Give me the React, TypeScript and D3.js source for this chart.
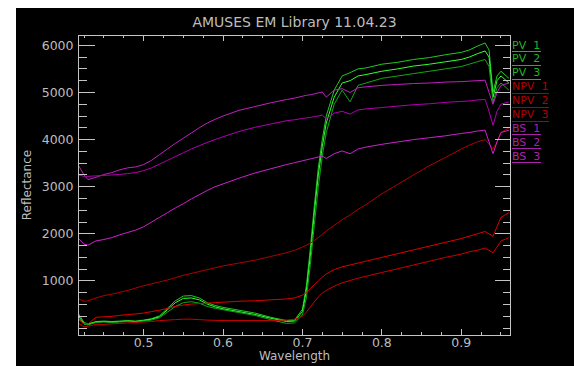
import * as React from "react";
import { useEffect, useRef } from "react";
import * as d3 from "d3";

// wavelength in micrometres
const wavelength = [0.418, 0.425, 0.43, 0.44, 0.45, 0.46, 0.47, 0.48, 0.49, 0.5, 0.51, 0.52, 0.53, 0.54, 0.55, 0.56, 0.57, 0.58, 0.59, 0.6, 0.62, 0.64, 0.66, 0.68, 0.69, 0.7, 0.705, 0.71, 0.715, 0.72, 0.725, 0.73, 0.74, 0.75, 0.76, 0.77, 0.78, 0.8, 0.82, 0.84, 0.86, 0.88, 0.9, 0.91, 0.92, 0.93, 0.935, 0.94, 0.945, 0.95, 0.96];

const pv1 = [300, 120, 90, 140, 150, 140, 150, 160, 150, 170, 200, 260, 420, 580, 680, 690, 640, 540, 480, 440, 380, 320, 230, 160, 170, 400, 900, 1700, 2600, 3400, 4000, 4500, 5050, 5350, 5420, 5500, 5520, 5600, 5640, 5700, 5740, 5800, 5850, 5900, 5980, 6050, 5900, 5000, 5350, 5450, 5300];
const pv2 = [250, 100, 80, 130, 140, 130, 140, 150, 140, 160, 190, 240, 390, 540, 630, 640, 600, 510, 450, 410, 350, 290, 210, 140, 150, 350, 800, 1550, 2450, 3250, 3850, 4350, 4900, 5200, 5250, 5350, 5380, 5450, 5500, 5560, 5600, 5650, 5700, 5750, 5820, 5880, 5750, 4900, 5250, 5350, 5200];
const pv3 = [200, 80, 70, 120, 130, 120, 130, 140, 130, 150, 170, 220, 340, 460, 540, 560, 530, 460, 420, 390, 330, 270, 180, 100, 110, 280, 650, 1350, 2200, 3000, 3650, 4150, 4750, 5050, 4800, 5150, 5200, 5300, 5350, 5400, 5450, 5500, 5550, 5600, 5650, 5700, 5550, 4800, 5100, 5200, 5050];
const npv1 = [620, 570, 580, 640, 690, 720, 760, 800, 850, 900, 940, 980, 1020, 1070, 1120, 1160, 1200, 1240, 1280, 1320, 1380, 1440, 1520, 1600, 1650, 1720, 1760, 1800, 1860, 1920, 1990, 2060, 2180, 2300, 2400, 2520, 2620, 2850, 3050, 3250, 3450, 3620, 3800, 3880, 3950, 4000, 3900, 3800, 3950, 4150, 4250];
const npv2 = [180, 100, 90, 230, 240, 250, 270, 290, 300, 320, 350, 380, 420, 460, 490, 510, 520, 530, 540, 550, 570, 580, 600, 620, 640, 700, 760, 840, 920, 1000, 1080, 1150, 1240, 1300, 1340, 1380, 1420, 1500, 1580, 1660, 1740, 1820, 1900, 1950, 2000, 2050, 2000, 1950, 2150, 2350, 2450];
const npv3 = [100, 30, 40, 80, 80, 90, 100, 110, 120, 130, 140, 160, 170, 180, 190, 190, 180, 170, 165, 160, 160, 160, 160, 170, 190, 250, 340, 450, 560, 660, 740, 800, 890, 960, 1010, 1060, 1100, 1180, 1260, 1340, 1420, 1500, 1570, 1620, 1650, 1700, 1650, 1600, 1720, 1850, 1920];
const bs1 = [3450, 3250, 3150, 3200, 3260, 3300, 3360, 3400, 3420, 3470, 3560, 3680, 3800, 3920, 4030, 4140, 4250, 4350, 4430, 4500, 4620, 4700, 4780, 4850, 4880, 4920, 4940, 4950, 4970, 4990, 5010, 4900, 5050, 5080, 5000, 5100, 5120, 5150, 5170, 5190, 5200, 5220, 5230, 5240, 5250, 5260, 5000, 4750, 5000, 5150, 5200];
const bs2 = [3250, 3220, 3220, 3230, 3240, 3250, 3260, 3280, 3300, 3340, 3400, 3480, 3560, 3640, 3720, 3800, 3870, 3940, 4000, 4060, 4170, 4260, 4330, 4400, 4420, 4450, 4460, 4470, 4490, 4500, 4520, 4440, 4560, 4600, 4540, 4630, 4650, 4680, 4710, 4740, 4760, 4790, 4810, 4820, 4840, 4850, 4600, 4300, 4600, 4750, 4800];
const bs3 = [1900, 1780, 1760, 1850, 1880, 1920, 1980, 2030, 2080, 2150, 2250, 2350, 2450, 2550, 2640, 2740, 2830, 2920, 3000, 3060, 3180, 3290, 3380, 3470, 3510, 3550, 3570, 3590, 3610, 3630, 3650, 3600, 3700, 3760, 3700, 3800, 3840, 3900, 3950, 4000, 4040, 4080, 4130, 4150, 4180, 4200, 3950, 3700, 3950, 4150, 4200];

const seriesNames = ["PV  1", "PV  2", "PV  3", "NPV  1", "NPV  2", "NPV  3", "BS  1", "BS  2", "BS  3"];
const seriesValues = [pv1, pv2, pv3, npv1, npv2, npv3, bs1, bs2, bs3];
const lineColors = ["#22c822", "#33ff33", "#12a812", "#b00000", "#dd0000", "#cc0000", "#c020c0", "#b000b0", "#cc22cc"];
const legendColors = ["#22b422", "#22b422", "#22b422", "#b00000", "#b00000", "#b00000", "#a820a8", "#a820a8", "#b020b0"];

const xTickValues = [0.5, 0.6, 0.7, 0.8, 0.9];
const xTickLabels = ["0.5", "0.6", "0.7", "0.8", "0.9"];
const yTickValues = [1000, 2000, 3000, 4000, 5000, 6000];
const yTickLabels = ["1000", "2000", "3000", "4000", "5000", "6000"];

const titleText = "AMUSES EM Library 11.04.23";
const xTitle = "Wavelength";
const yTitle = "Reflectance";

const App = () => {
    const ref = useRef<SVGSVGElement>(null);

    useEffect(() => {
        const svg = d3.select(ref.current);
        svg.selectAll("*").remove();

        const left = 78.5, right = 510.5, top = 35, bottom = 335;
        const axisColor = "#c4c4c4";
        const textColor = "#bdbdbd";
        const font = "DejaVu Sans, sans-serif";

        const x = d3.scaleLinear().domain([0.418, 0.962]).range([left, right]);
        const y = d3.scaleLinear().domain([-146, 6219]).range([bottom, top]);

        svg.append("rect")
            .attr("x", 16).attr("y", 8)
            .attr("width", 558).attr("height", 358)
            .attr("fill", "#000");

        svg.append("defs").append("clipPath").attr("id", "plot-clip")
            .append("rect")
            .attr("x", left).attr("y", top)
            .attr("width", right - left).attr("height", bottom - top);

        // spectra
        const line = d3.line<number>()
            .x((d, i) => x(wavelength[i]))
            .y((d) => y(d));

        const plot = svg.append("g").attr("clip-path", "url(#plot-clip)");
        seriesValues.forEach((vals, i) => {
            plot.append("path")
                .attr("d", line(vals))
                .attr("fill", "none")
                .attr("stroke", lineColors[i])
                .attr("stroke-width", 1);
        });

        // frame + ticks
        const axes = svg.append("g")
            .attr("stroke", axisColor)
            .attr("stroke-width", 1)
            .attr("shape-rendering", "crispEdges");

        axes.append("rect")
            .attr("x", left).attr("y", top)
            .attr("width", right - left).attr("height", bottom - top)
            .attr("fill", "none");

        const xMinor = d3.range(17, 39).map((k) => k * 0.025);
        xMinor.forEach((v) => {
            const major = xTickValues.some((t) => Math.abs(t - v) < 1e-6);
            const len = major ? 6 : 3;
            axes.append("line")
                .attr("x1", x(v)).attr("x2", x(v))
                .attr("y1", bottom).attr("y2", bottom - len);
            axes.append("line")
                .attr("x1", x(v)).attr("x2", x(v))
                .attr("y1", top).attr("y2", top + len);
        });

        const yMinor = d3.range(0, 25).map((k) => k * 250);
        yMinor.forEach((v) => {
            const major = yTickValues.includes(v);
            const len = major ? 16 : 8;
            axes.append("line")
                .attr("x1", left).attr("x2", left + len)
                .attr("y1", y(v)).attr("y2", y(v));
            axes.append("line")
                .attr("x1", right).attr("x2", right - len)
                .attr("y1", y(v)).attr("y2", y(v));
        });

        // tick labels
        const labels = svg.append("g")
            .attr("fill", textColor)
            .attr("font-family", font);

        labels.selectAll("text.xt")
            .data(xTickValues)
            .enter().append("text")
            .attr("class", "xt")
            .attr("x", (d) => x(d))
            .attr("y", 346.5)
            .attr("text-anchor", "middle")
            .attr("font-size", 12.5)
            .text((d, i) => xTickLabels[i]);

        labels.selectAll("text.yt")
            .data(yTickValues)
            .enter().append("text")
            .attr("class", "yt")
            .attr("x", left - 5)
            .attr("y", (d) => y(d) + 4.5)
            .attr("text-anchor", "end")
            .attr("font-size", 12.5)
            .text((d, i) => yTickLabels[i]);

        labels.append("text")
            .attr("x", (left + right) / 2).attr("y", 360)
            .attr("text-anchor", "middle")
            .attr("font-size", 12)
            .text(xTitle);

        labels.append("text")
            .attr("transform", `translate(31 ${(top + bottom) / 2}) rotate(-90)`)
            .attr("text-anchor", "middle")
            .attr("font-size", 12)
            .text(yTitle);

        labels.append("text")
            .attr("x", (left + right) / 2).attr("y", 27)
            .attr("text-anchor", "middle")
            .attr("font-size", 14)
            .text(titleText);

        // legend
        const legend = svg.append("g").attr("font-family", font);
        seriesNames.forEach((name, i) => {
            const base = 48.5 + i * 13.9;
            const t = legend.append("text")
                .attr("x", 512).attr("y", base)
                .attr("font-size", 11)
                .attr("fill", legendColors[i])
                .style("white-space", "pre")
                .text(name);
            const w = (t.node() as SVGTextElement).getComputedTextLength();
            legend.append("line")
                .attr("x1", 512).attr("x2", 512 + w + 1)
                .attr("y1", base + 3).attr("y2", base + 3)
                .attr("stroke", legendColors[i])
                .attr("stroke-width", 1)
                .attr("shape-rendering", "crispEdges");
        });
    }, []);

    return (
        <svg
            ref={ref}
            width={574}
            height={366}
            style={{ position: "absolute", left: 0, top: 0, display: "block" }}
        />
    );
};

export default App;
